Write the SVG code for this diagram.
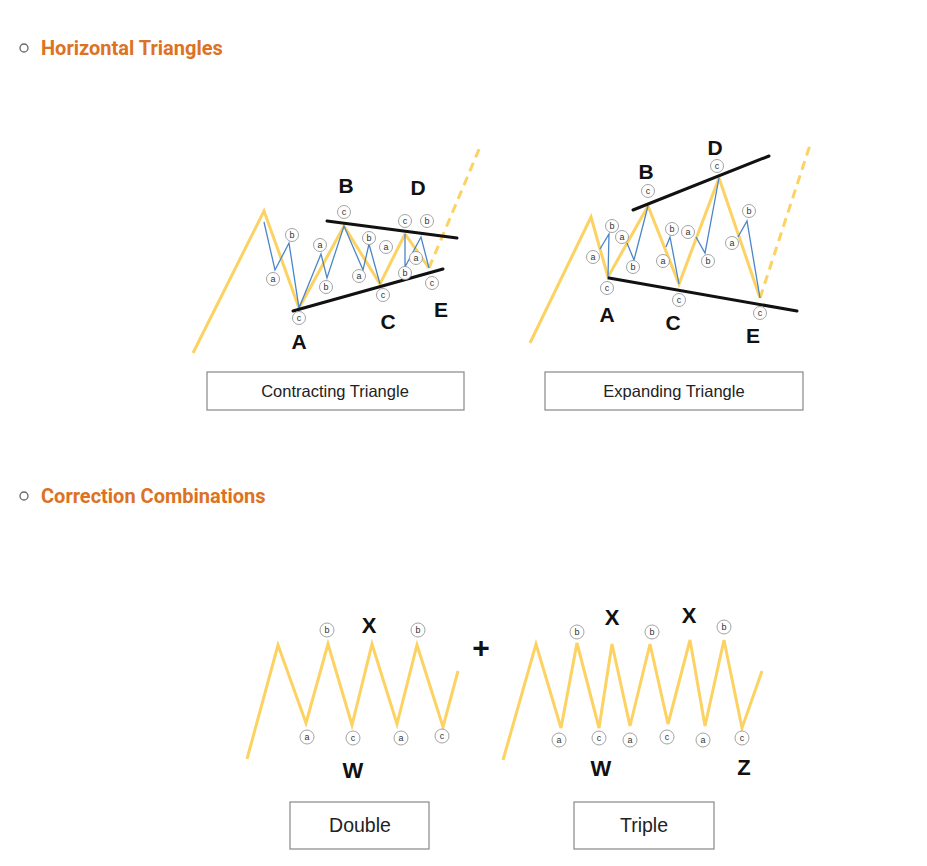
<svg xmlns="http://www.w3.org/2000/svg" width="927" height="866" viewBox="0 0 927 866">
<style>
.h{font-family:Roboto,"Liberation Sans",sans-serif;font-weight:700;font-size:20px;fill:#dc7222}
.bul{fill:none;stroke:#666;stroke-width:1.3}
.y{fill:none;stroke:#fcd263;stroke-width:3;stroke-linejoin:miter}
.yd{fill:none;stroke:#fcd263;stroke-width:3;stroke-dasharray:9 6}
.bl{fill:none;stroke:#4a86c8;stroke-width:1.3}
.k{stroke:#111;stroke-width:3;stroke-linecap:round}
.sc circle{fill:#fff;stroke:#999;stroke-width:0.9}
.sc text{font-family:"Liberation Sans",Arial,sans-serif;font-size:9px;fill:#333;text-anchor:middle}
.big{font-family:"Liberation Sans",Arial,sans-serif;font-weight:700;font-size:21px;fill:#111;text-anchor:middle}
.big2{font-size:22px}
.box rect{fill:#fff;stroke:#888;stroke-width:1.2}
.box text{font-family:"Liberation Sans",Arial,sans-serif;fill:#222;text-anchor:middle}
</style>
<rect width="927" height="866" fill="#fff"/>

<g id="heading1">
<circle class="bul" cx="24" cy="48" r="4"/>
<text class="h" x="41" y="55">Horizontal Triangles</text>
</g>
<g id="heading2">
<circle class="bul" cx="24" cy="496" r="4"/>
<text class="h" x="41" y="503">Correction Combinations</text>
</g>

<g id="contracting-triangle">
<polyline class="y" points="193,353 264,211 299,308 344,226 380,284 405,234 429,268"/>
<line class="yd" x1="429" y1="268" x2="480" y2="147"/>
<polyline class="bl" points="264,222 275,270 289,243 299,308 321,254 327,278 344,226 363,270 369,244 380,284"/>
<polyline class="bl" points="405,234 405,267 421,237 429,268"/>
<line class="k" x1="327" y1="221" x2="457" y2="238"/>
<line class="k" x1="293" y1="311" x2="443" y2="269"/>
<g class="sc">
<circle cx="273" cy="279" r="6.5"/><text x="273" y="282">a</text>
<circle cx="292" cy="235" r="6.5"/><text x="292" y="238">b</text>
<circle cx="299" cy="318" r="6.5"/><text x="299" y="321">c</text>
<circle cx="320" cy="245" r="6.5"/><text x="320" y="248">a</text>
<circle cx="326" cy="287" r="6.5"/><text x="326" y="290">b</text>
<circle cx="344" cy="212" r="6.5"/><text x="344" y="215">c</text>
<circle cx="359" cy="276" r="6.5"/><text x="359" y="279">a</text>
<circle cx="369" cy="238" r="6.5"/><text x="369" y="241">b</text>
<circle cx="383" cy="295" r="6.5"/><text x="383" y="298">c</text>
<circle cx="386" cy="247" r="6.5"/><text x="386" y="250">a</text>
<circle cx="405" cy="221" r="6.5"/><text x="405" y="224">c</text>
<circle cx="427" cy="221" r="6.5"/><text x="427" y="224">b</text>
<circle cx="416" cy="258" r="6.5"/><text x="416" y="261">a</text>
<circle cx="405" cy="273" r="6.5"/><text x="405" y="276">b</text>
<circle cx="432" cy="283" r="6.5"/><text x="432" y="286">c</text>
</g>
<text class="big" x="346" y="193">B</text>
<text class="big" x="418" y="195">D</text>
<text class="big" x="299" y="349">A</text>
<text class="big" x="388" y="329">C</text>
<text class="big" x="441" y="317">E</text>
</g>

<g id="expanding-triangle">
<polyline class="y" points="530,343 591,217 608,277 648,206 679,284 719,178 760,298"/>
<line class="yd" x1="760" y1="298" x2="810" y2="145"/>
<polyline class="bl" points="600,249 609,234 608,277"/>
<polyline class="bl" points="627,243 634,260 648,206"/>
<polyline class="bl" points="666,247 670,237 679,284"/>
<polyline class="bl" points="696,237 705,253 719,178"/>
<polyline class="bl" points="738,237 747,221 760,298"/>
<line class="k" x1="633" y1="210" x2="769" y2="156"/>
<line class="k" x1="609" y1="278" x2="797" y2="311"/>
<g class="sc">
<circle cx="593" cy="257" r="6.5"/><text x="593" y="260">a</text>
<circle cx="612" cy="226" r="6.5"/><text x="612" y="229">b</text>
<circle cx="607" cy="288" r="6.5"/><text x="607" y="291">c</text>
<circle cx="622" cy="237" r="6.5"/><text x="622" y="240">a</text>
<circle cx="633" cy="267" r="6.5"/><text x="633" y="270">b</text>
<circle cx="648" cy="191" r="6.5"/><text x="648" y="194">c</text>
<circle cx="663" cy="261" r="6.5"/><text x="663" y="264">a</text>
<circle cx="672" cy="229" r="6.5"/><text x="672" y="232">b</text>
<circle cx="679" cy="300" r="6.5"/><text x="679" y="303">c</text>
<circle cx="688" cy="232" r="6.5"/><text x="688" y="235">a</text>
<circle cx="708" cy="261" r="6.5"/><text x="708" y="264">b</text>
<circle cx="717" cy="166" r="6.5"/><text x="717" y="169">c</text>
<circle cx="732" cy="243" r="6.5"/><text x="732" y="246">a</text>
<circle cx="749" cy="211" r="6.5"/><text x="749" y="214">b</text>
<circle cx="760" cy="313" r="6.5"/><text x="760" y="316">c</text>
</g>
<text class="big" x="646" y="179">B</text>
<text class="big" x="715" y="155">D</text>
<text class="big" x="607" y="322">A</text>
<text class="big" x="673" y="330">C</text>
<text class="big" x="753" y="343">E</text>
</g>

<g id="box-contracting" class="box">
<rect x="207" y="372" width="257" height="38"/>
<text x="335" y="397" font-size="16.5">Contracting Triangle</text>
</g>
<g id="box-expanding" class="box">
<rect x="545" y="372" width="258" height="38"/>
<text x="674" y="397" font-size="16.5">Expanding Triangle</text>
</g>

<g id="double">
<polyline class="y" points="247,759 278,645 306,723 328,644 352,725 372,644 397,724 417,645 443,727 458,671"/>
<g class="sc">
<circle cx="327" cy="630" r="7"/><text x="327" y="633">b</text>
<circle cx="418" cy="630" r="7"/><text x="418" y="633">b</text>
<circle cx="307" cy="737" r="7"/><text x="307" y="740">a</text>
<circle cx="353" cy="738" r="7"/><text x="353" y="741">c</text>
<circle cx="401" cy="738" r="7"/><text x="401" y="741">a</text>
<circle cx="442" cy="736" r="7"/><text x="442" y="739">c</text>
</g>
<text class="big big2" x="369" y="633">X</text>
<text class="big big2" x="353" y="778">W</text>
</g>

<g id="plus">
<text class="big" x="481" y="658" style="font-size:30px">+</text>
</g>

<g id="triple">
<polyline class="y" points="503,760 536,644 561,728 577,643 599,728 612,644 630,726 650,644 668,724 690,640 705,726 724,640 742,728 762,671"/>
<g class="sc">
<circle cx="577" cy="632" r="7"/><text x="577" y="635">b</text>
<circle cx="652" cy="632" r="7"/><text x="652" y="635">b</text>
<circle cx="724" cy="627" r="7"/><text x="724" y="630">b</text>
<circle cx="559" cy="740" r="7"/><text x="559" y="743">a</text>
<circle cx="599" cy="738" r="7"/><text x="599" y="741">c</text>
<circle cx="630" cy="740" r="7"/><text x="630" y="743">a</text>
<circle cx="667" cy="737" r="7"/><text x="667" y="740">c</text>
<circle cx="703" cy="740" r="7"/><text x="703" y="743">a</text>
<circle cx="742" cy="738" r="7"/><text x="742" y="741">c</text>
</g>
<text class="big big2" x="612" y="625">X</text>
<text class="big big2" x="689" y="623">X</text>
<text class="big big2" x="601" y="776">W</text>
<text class="big big2" x="744" y="775">Z</text>
</g>

<g id="box-double" class="box">
<rect x="290" y="802" width="139" height="47"/>
<text x="360" y="832" font-size="19.5">Double</text>
</g>
<g id="box-triple" class="box">
<rect x="574" y="802" width="140" height="47"/>
<text x="644" y="832" font-size="19.5">Triple</text>
</g>
</svg>
